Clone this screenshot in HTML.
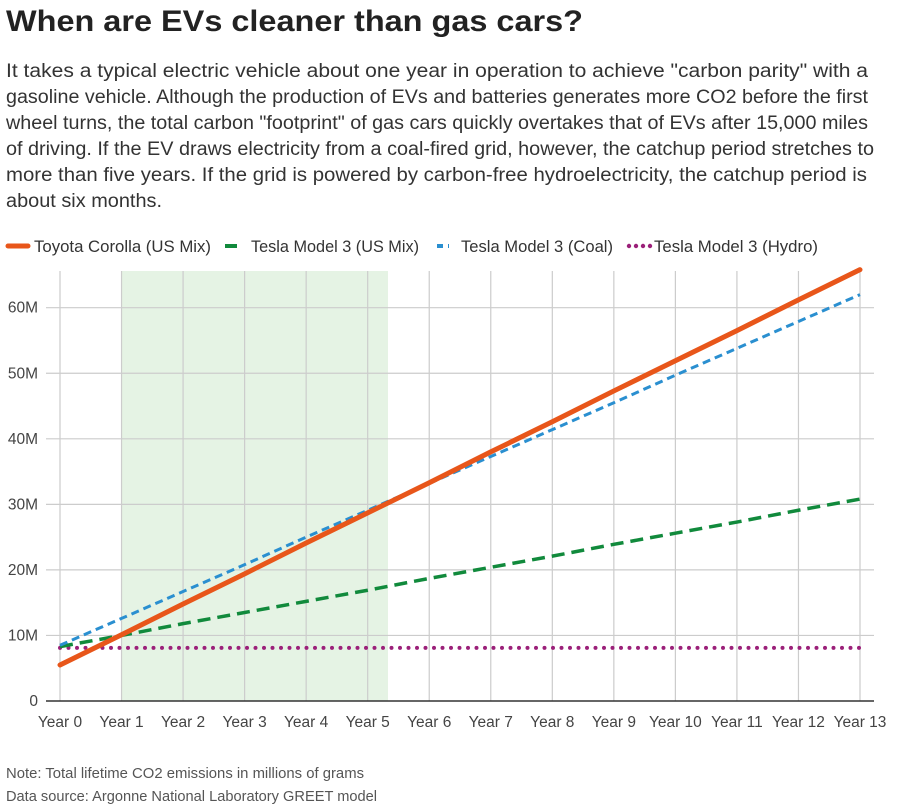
<!DOCTYPE html>
<html><head><meta charset="utf-8"><style>
body{margin:0;background:#fff;font-family:"Liberation Sans",sans-serif;color:#333;width:897px;height:812px;overflow:hidden;position:relative}
</style></head><body>
<svg id="chart" width="897" height="812" style="position:absolute;left:0;top:0">
<text x="6" y="31" font-size="30" font-weight="bold" fill="#222" textLength="577" lengthAdjust="spacingAndGlyphs">When are EVs cleaner than gas cars?</text>
<g font-size="19" fill="#333">
<text x="6" y="77" textLength="862" lengthAdjust="spacingAndGlyphs">It takes a typical electric vehicle about one year in operation to achieve "carbon parity" with a</text>
<text x="6" y="103" textLength="862" lengthAdjust="spacingAndGlyphs">gasoline vehicle. Although the production of EVs and batteries generates more CO2 before the first</text>
<text x="6" y="129" textLength="862" lengthAdjust="spacingAndGlyphs">wheel turns, the total carbon "footprint" of gas cars quickly overtakes that of EVs after 15,000 miles</text>
<text x="6" y="155" textLength="868" lengthAdjust="spacingAndGlyphs">of driving. If the EV draws electricity from a coal-fired grid, however, the catchup period stretches to</text>
<text x="6" y="181" textLength="861" lengthAdjust="spacingAndGlyphs">more than five years. If the grid is powered by carbon-free hydroelectricity, the catchup period is</text>
<text x="6" y="207" textLength="156" lengthAdjust="spacingAndGlyphs">about six months.</text>
</g>
<text x="6" y="778" font-size="14.5" fill="#555" textLength="358" lengthAdjust="spacingAndGlyphs">Note: Total lifetime CO2 emissions in millions of grams</text>
<text x="6" y="801" font-size="14.5" fill="#555" textLength="371" lengthAdjust="spacingAndGlyphs">Data source: Argonne National Laboratory GREET model</text>
</svg>
<script>
const years = ["Year 0","Year 1","Year 2","Year 3","Year 4","Year 5","Year 6","Year 7","Year 8","Year 9","Year 10","Year 11","Year 12","Year 13"];
const yTicks = [0,10,20,30,40,50,60];
const yTickLabels = ["0","10M","20M","30M","40M","50M","60M"];
const corolla = [5.5,10.1,14.8,19.4,24.1,28.7,33.3,38.0,42.6,47.3,51.9,56.5,61.2,65.8];
const teslaUS = [8.3,10.0,11.8,13.5,15.2,16.9,18.7,20.4,22.1,23.9,25.6,27.3,29.1,30.8];
const teslaCoal = [8.5,12.6,16.7,20.8,25.0,29.1,33.2,37.3,41.4,45.5,49.7,53.8,57.9,62.0];
const teslaHydro = [8.1,8.1,8.1,8.1,8.1,8.1,8.1,8.1,8.1,8.1,8.1,8.1,8.1,8.1];
const shadeRange = [1,5.33];
const seriesNames = ["Toyota Corolla (US Mix)","Tesla Model 3 (US Mix)","Tesla Model 3 (Coal)","Tesla Model 3 (Hydro)"];

const svg=document.getElementById('chart');const NS='http://www.w3.org/2000/svg';
const x=i=>60+i*(800/13);const y=v=>701-v*6.555;
function mk(t,a,p){const e=document.createElementNS(NS,t);for(const k in a)e.setAttribute(k,a[k]);(p||svg).appendChild(e);return e;}
const sh=mk('rect',{x:x(shadeRange[0]),y:271,width:x(shadeRange[1])-x(shadeRange[0]),height:701-271,fill:'#e5f3e4'});


years.forEach((l,i)=>{
 const g=mk('line',{x1:x(i),x2:x(i),y1:271,y2:701,stroke:'#ccc','stroke-width':1.2});
 
 
 const t=mk('text',{x:x(i),y:727,'text-anchor':'middle','font-size':15.5,fill:'#444'});t.textContent=l;
 
 
});
yTicks.forEach((v,i)=>{
 if(v>0){const g=mk('line',{x1:46,x2:874,y1:y(v),y2:y(v),stroke:'#ccc','stroke-width':1.2});
 
 }
 const t=mk('text',{x:38,y:y(v)+5,'text-anchor':'end','font-size':15.5,fill:'#444'});t.textContent=yTickLabels[i];
 
 
});
const ax=mk('line',{x1:46,x2:874,y1:701,y2:701,stroke:'#333','stroke-width':1.5});


const styles=[
 {c:'#e8561a',w:5,d:'',n:'series-corolla',data:corolla},
 {c:'#118a3c',w:3.5,d:'13 7',n:'series-tesla-us-mix',data:teslaUS},
 {c:'#2a8fd0',w:3,d:'8 5',n:'series-tesla-coal',data:teslaCoal},
 {c:'#9b2079',w:4,d:'0 8.5',n:'series-tesla-hydro',data:teslaHydro}];
[3,1,2,0].forEach(k=>{const s=styles[k];
 const p=mk('polyline',{points:s.data.map((v,i)=>x(i)+','+y(v)).join(' '),fill:'none',stroke:s.c,'stroke-width':s.w,'stroke-dasharray':s.d,'stroke-linecap':(k==3||k==0)?'round':'butt'});
 
 
});
const mx=[8,225,437,628];
const tx=[34,251,461,654];
const tw=[177,168,152,164];
seriesNames.forEach((n,k)=>{const s=styles[k];
 const g=mk('g',{});
 
 
 if(k==3){[0,7,14,21].forEach(o=>mk('circle',{cx:mx[k]+o+1,cy:246,r:2.2,fill:s.c},g));}
 else mk('line',{x1:mx[k],x2:mx[k]+(k==0?20:12),y1:246,y2:246,stroke:s.c,'stroke-width':k==0?5:4,'stroke-dasharray':k==2?'6 5':'','stroke-linecap':k==0?'round':'butt'},g);
 const t=mk('text',{x:tx[k],y:252,'font-size':16.5,fill:'#333',textLength:tw[k],lengthAdjust:'spacingAndGlyphs'},g);t.textContent=n;
});
</script>
</body></html>
